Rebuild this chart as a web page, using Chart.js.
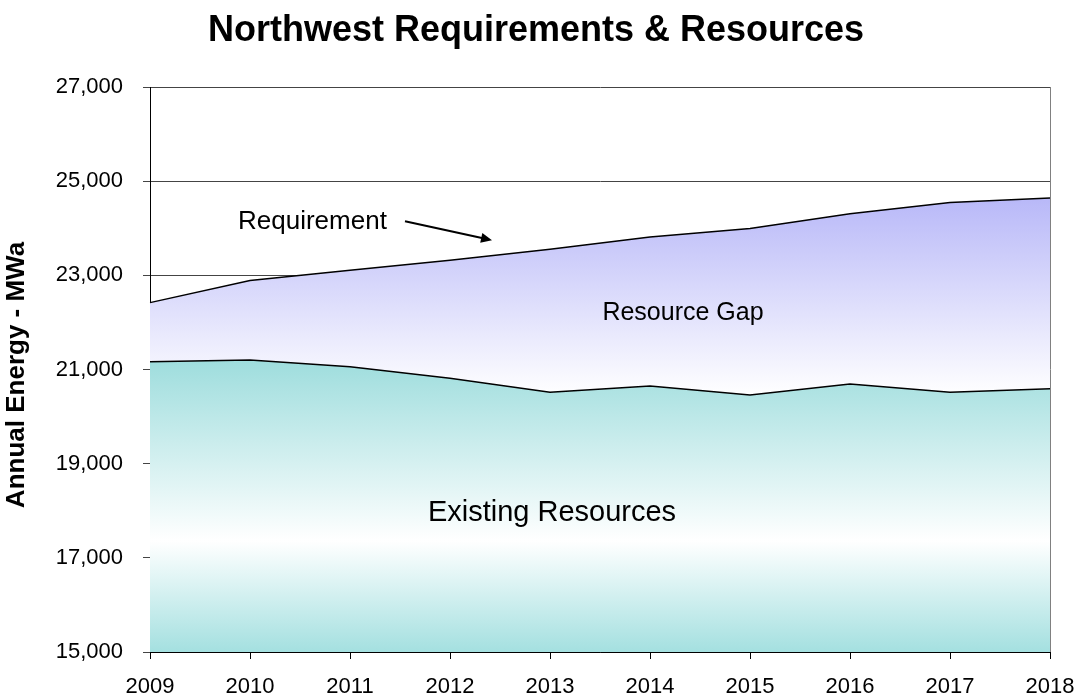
<!DOCTYPE html>
<html>
<head>
<meta charset="utf-8">
<script src="https://cdn.jsdelivr.net/npm/chart.js@4/dist/chart.umd.min.js"></script>
<style>
  html, body { margin: 0; padding: 0; background: #fff; }
  #wrap { width: 1081px; height: 696px; }
</style>
</head>
<body>
<div id="wrap"><canvas id="chart" width="1081" height="696"></canvas></div>
<script>
const years = ['2009', '2010', '2011', '2012', '2013', '2014', '2015', '2016', '2017', '2018'];
const existingResources = [21165, 21200, 21060, 20815, 20515, 20650, 20460, 20690, 20515, 20590];
const requirement = [22420, 22890, 23110, 23320, 23555, 23815, 23995, 24310, 24545, 24640];
const yTicks = [15000, 17000, 19000, 21000, 23000, 25000, 27000];

const FONT = 'Arial, "Liberation Sans", sans-serif';

function existingFill(context) {
    const chart = context.chart;
    const area = chart.chartArea;
    if (!area) return '#a2dfdf';
    const top = chart.scales.y.getPixelForValue(21200);
    const g = chart.ctx.createLinearGradient(0, top, 0, area.bottom);
    g.addColorStop(0, '#9edddd');
    g.addColorStop(0.62, '#ffffff');
    g.addColorStop(1, '#a4e0e0');
    return g;
}

function gapFill(context) {
    const chart = context.chart;
    const area = chart.chartArea;
    if (!area) return '#c0c0f8';
    const y = chart.scales.y;
    const g = chart.ctx.createLinearGradient(0, y.getPixelForValue(24650), 0, y.getPixelForValue(20450));
    g.addColorStop(0, '#b8b8f8');
    g.addColorStop(1, '#ffffff');
    return g;
}

// titles, text labels, arrow and right frame line
const notes = {
    id: 'notes',
    afterDatasetsDraw(chart) {
        const { ctx, chartArea, scales } = chart;
        const x = scales.x, y = scales.y;
        ctx.save();

        ctx.strokeStyle = '#808080';
        ctx.lineWidth = 1;
        ctx.beginPath();
        ctx.moveTo(Math.round(chartArea.right) + 0.5, chartArea.top);
        ctx.lineTo(Math.round(chartArea.right) + 0.5, chartArea.bottom);
        ctx.stroke();

        ctx.fillStyle = '#000';
        ctx.textBaseline = 'middle';
        ctx.textAlign = 'center';

        ctx.font = 'bold 36px ' + FONT;
        ctx.fillText('Northwest Requirements & Resources', 536, 31);

        ctx.save();
        ctx.translate(17, 375);
        ctx.rotate(-Math.PI / 2);
        ctx.font = 'bold 26px ' + FONT;
        ctx.fillText('Annual Energy - MWa', 0, 0);
        ctx.restore();

        ctx.font = '26px ' + FONT;
        ctx.textAlign = 'left';
        ctx.fillText('Requirement', x.getPixelForValue(0.88), y.getPixelForValue(24130));

        ctx.font = '25px ' + FONT;
        ctx.textAlign = 'center';
        ctx.fillText('Resource Gap', x.getPixelForValue(5.33), y.getPixelForValue(22195));

        ctx.font = '29px ' + FONT;
        ctx.fillText('Existing Resources', x.getPixelForValue(4.02), y.getPixelForValue(17950));

        // arrow
        const x1 = x.getPixelForValue(2.55), y1 = y.getPixelForValue(24150);
        const x2 = x.getPixelForValue(3.42), y2 = y.getPixelForValue(23745);
        const ang = Math.atan2(y2 - y1, x2 - x1);
        ctx.strokeStyle = '#000';
        ctx.lineWidth = 2;
        ctx.beginPath();
        ctx.moveTo(x1, y1);
        ctx.lineTo(x2 - 8 * Math.cos(ang), y2 - 8 * Math.sin(ang));
        ctx.stroke();
        ctx.beginPath();
        ctx.moveTo(x2, y2);
        ctx.lineTo(x2 - 11 * Math.cos(ang) + 5 * Math.sin(ang), y2 - 11 * Math.sin(ang) - 5 * Math.cos(ang));
        ctx.lineTo(x2 - 11 * Math.cos(ang) - 5 * Math.sin(ang), y2 - 11 * Math.sin(ang) + 5 * Math.cos(ang));
        ctx.closePath();
        ctx.fill();

        ctx.restore();
    }
};

new Chart(document.getElementById('chart'), {
    type: 'line',
    data: {
        labels: years,
        datasets: [
            {
                label: 'Existing Resources',
                data: existingResources,
                borderColor: '#000',
                borderWidth: 1.5,
                backgroundColor: existingFill,
                fill: 'start',
                pointRadius: 0,
                tension: 0
            },
            {
                label: 'Requirement',
                data: requirement,
                borderColor: '#000',
                borderWidth: 1.5,
                backgroundColor: gapFill,
                fill: '-1',
                pointRadius: 0,
                tension: 0
            }
        ]
    },
    options: {
        responsive: false,
        animation: false,
        layout: { padding: { left: 0, right: 31, top: 87, bottom: 0 } },
        plugins: {
            legend: { display: false },
            tooltip: { enabled: false },
            title: { display: false }
        },
        scales: {
            x: {
                offset: false,
                grid: { drawOnChartArea: false, drawTicks: true, tickLength: 7, color: '#000' },
                border: { color: '#000', width: 1 },
                ticks: { color: '#000', font: { family: FONT, size: 22 }, padding: 15, maxRotation: 0, autoSkip: false },
                afterFit: (s) => { s.height = 44; s.paddingLeft = 0; s.paddingRight = 0; }
            },
            y: {
                min: 15000,
                max: 27000,
                afterBuildTicks: (s) => { s.ticks = yTicks.map(v => ({ value: v })); },
                grid: { color: '#444', lineWidth: 1, tickLength: 7 },
                border: { color: '#000', width: 1 },
                ticks: {
                    color: '#000',
                    padding: 20,
                    font: { family: FONT, size: 22 },
                    callback: (v) => v.toLocaleString('en-US')
                },
                afterFit: (s) => { s.width = 150; s.paddingTop = 0; s.paddingBottom = 0; }
            }
        }
    },
    plugins: [notes]
});
</script>
</body>
</html>
